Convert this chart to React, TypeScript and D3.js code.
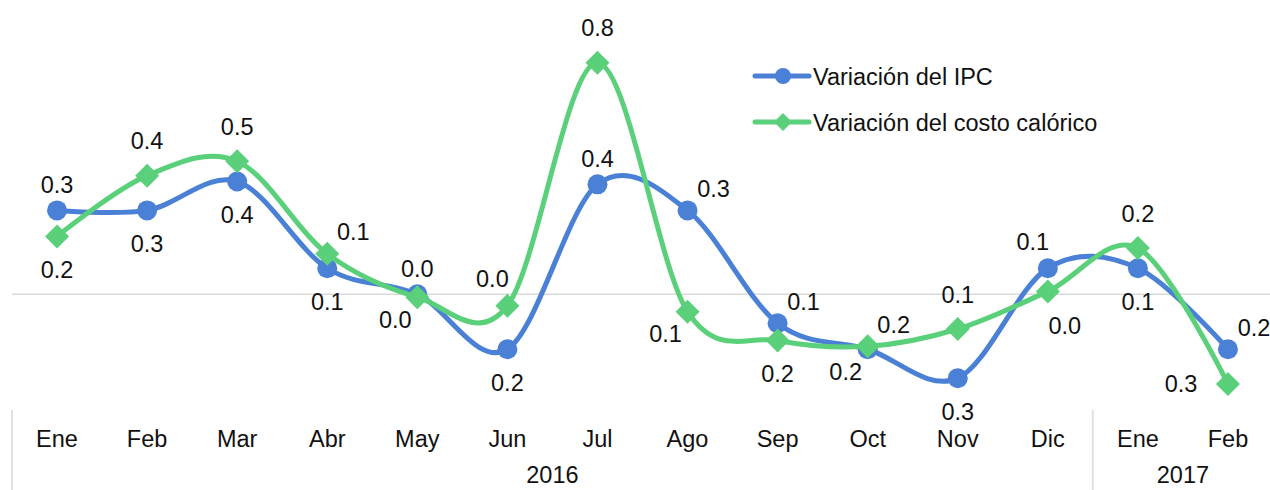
import * as d3 from "d3";
import React, {useEffect, useRef} from "react";

const months = ["Ene", "Feb", "Mar", "Abr", "May", "Jun", "Jul", "Ago", "Sep", "Oct", "Nov", "Dic", "Ene", "Feb"];
const years = [
  {label: "2016", from: 0, to: 12},
  {label: "2017", from: 12, to: 14},
];

const ipc = [0.29, 0.29, 0.39, 0.09, 0.00, -0.19, 0.38, 0.29, -0.10, -0.19, -0.29, 0.09, 0.09, -0.19];
const costoCalorico = [0.20, 0.41, 0.46, 0.14, -0.01, -0.04, 0.80, -0.06, -0.16, -0.18, -0.12, 0.01, 0.16, -0.31];

// where each data label sits around its point
const ipcLabelPos = ["t", "b", "b", "b", "t", "b", "t", "tr", "tr", "bl", "b", "tl", "b", "tr"];
const costoLabelPos = ["b", "t", "t", "tr", "bl", "tl", "t", "bl", "b", "tr", "t", "br", "t", "l"];

const BLUE = "#4a80d6";
const GREEN = "#5bd07a";
const FONT = "'Liberation Sans', Arial, sans-serif";
const FS = 23.5;

const offsets: Record<string, [number, number]> = {
  t: [0, -26],
  b: [0, 33],
  tr: [26, -22],
  tl: [-15, -27],
  bl: [-22, 22],
  br: [17, 34],
  l: [-47, 0],
};

const App: React.FC = () => {
  const svgRef = useRef<SVGSVGElement | null>(null);

  useEffect(() => {
    if (!svgRef.current) return;
    const svg = d3.select(svgRef.current);
    svg.selectAll("*").remove();

    const x = d3.scaleBand<number>()
      .domain(d3.range(months.length))
      .range([12, 1273])
      .padding(0);
    const cx = (i: number) => x(i)! + x.bandwidth() / 2;
    const y = d3.scaleLinear().domain([-0.4, 1.0]).range([410, 5]);

    // zero line
    svg.append("line")
      .attr("x1", 12).attr("x2", 1270)
      .attr("y1", y(0)).attr("y2", y(0))
      .attr("stroke", "#d9d9d9").attr("stroke-width", 1.5);

    // category axis separators
    [0, 12].forEach(i => {
      svg.append("line")
        .attr("x1", x(i)!).attr("x2", x(i)!)
        .attr("y1", 410).attr("y2", 490)
        .attr("stroke", "#d9d9d9").attr("stroke-width", 1.5);
    });

    svg.append("g").selectAll("text")
      .data(months)
      .enter().append("text")
      .attr("x", (_, i) => cx(i))
      .attr("y", 447)
      .attr("text-anchor", "middle")
      .attr("font-family", FONT)
      .attr("font-size", FS)
      .attr("fill", "#111")
      .text(d => d);

    svg.append("g").selectAll("text")
      .data(years)
      .enter().append("text")
      .attr("x", d => (x(d.from)! + (d.to < months.length ? x(d.to)! : 1273)) / 2)
      .attr("y", 483)
      .attr("text-anchor", "middle")
      .attr("font-family", FONT)
      .attr("font-size", FS)
      .attr("fill", "#111")
      .text(d => d.label);

    const line = d3.line<number>()
      .x((_, i) => cx(i))
      .y(d => y(d))
      .curve(d3.curveCardinal.tension(0));

    const series = [
      {values: ipc, color: BLUE, marker: "circle", pos: ipcLabelPos, lift: 0},
      {values: costoCalorico, color: GREEN, marker: "diamond", pos: costoLabelPos, lift: 9},
    ];

    const diamond = (s: number) => `M0,${-s}L${s},0L0,${s}L${-s},0Z`;

    series.forEach(s => {
      svg.append("path")
        .attr("d", line(s.values))
        .attr("fill", "none")
        .attr("stroke", s.color)
        .attr("stroke-width", 5)
        .attr("stroke-linejoin", "round");

      const g = svg.append("g");
      if (s.marker === "circle") {
        g.selectAll("circle")
          .data(s.values)
          .enter().append("circle")
          .attr("cx", (_, i) => cx(i))
          .attr("cy", d => y(d))
          .attr("r", 10)
          .attr("fill", s.color);
      } else {
        g.selectAll("path")
          .data(s.values)
          .enter().append("path")
          .attr("transform", (d, i) => `translate(${cx(i)},${y(d)})`)
          .attr("d", diamond(12))
          .attr("fill", s.color);
      }
    });

    series.forEach(s => {
      svg.append("g").selectAll("text")
        .data(s.values)
        .enter().append("text")
        .attr("x", (_, i) => cx(i) + offsets[s.pos[i]][0])
        .attr("y", (d, i) => {
          const p = s.pos[i];
          const extra = p === "t" ? -s.lift : 0;
          return y(d) + offsets[p][1] + extra + 8.5;
        })
        .attr("text-anchor", "middle")
        .attr("font-family", FONT)
        .attr("font-size", FS)
        .attr("fill", "#111")
        .text(d => d3.format(".1f")(Math.abs(d)));
    });

    // legend
    const legend = [
      {label: "Variación del IPC", color: BLUE, marker: "circle"},
      {label: "Variación del costo calórico", color: GREEN, marker: "diamond"},
    ];
    legend.forEach((l, i) => {
      const ly = 76 + i * 46;
      const lg = svg.append("g");
      lg.append("line")
        .attr("x1", 755).attr("x2", 809)
        .attr("y1", ly).attr("y2", ly)
        .attr("stroke", l.color).attr("stroke-width", 5)
        .attr("stroke-linecap", "round");
      if (l.marker === "circle") {
        lg.append("circle").attr("cx", 783).attr("cy", ly).attr("r", 8).attr("fill", l.color);
      } else {
        lg.append("path").attr("transform", `translate(783,${ly})`).attr("d", diamond(9)).attr("fill", l.color);
      }
      lg.append("text")
        .attr("x", 813).attr("y", ly + 8.5)
        .attr("font-family", FONT)
        .attr("font-size", FS)
        .attr("fill", "#111")
        .text(l.label);
    });
  }, []);

  return (
    <svg
      ref={svgRef}
      width={1270}
      height={490}
      style={{position: "absolute", left: 0, top: 0, background: "#fff"}}
    />
  );
};

export default App;
